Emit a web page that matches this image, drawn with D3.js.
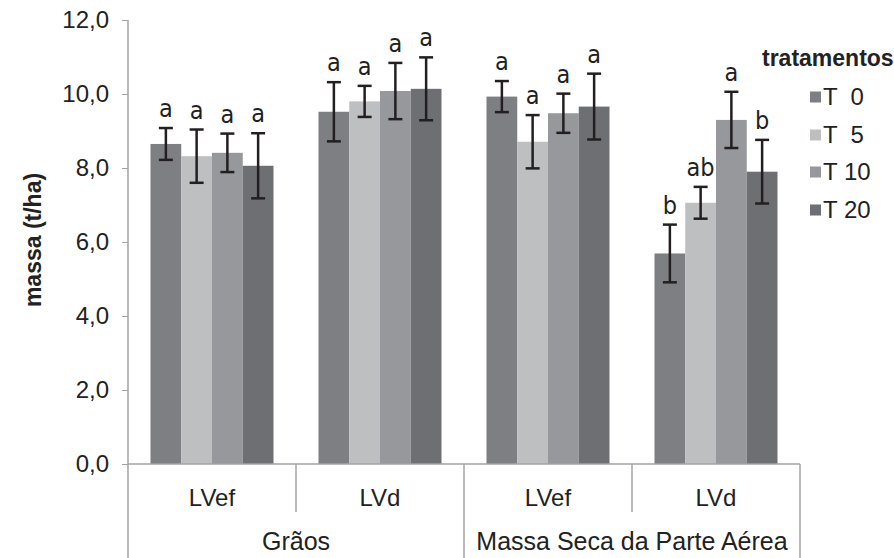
<!DOCTYPE html>
<html><head><meta charset="utf-8">
<script src="https://cdn.jsdelivr.net/npm/d3@7"></script>
<style>body{margin:0;background:#fff}svg{display:block}</style>
</head><body>
<svg id="c" width="894" height="558"></svg>
<script>
const groups = ["Grãos", "Massa Seca da Parte Aérea"];
const soils = ["LVef", "LVd"];
const clusters = ["Grãos|LVef", "Grãos|LVd", "MSPA|LVef", "MSPA|LVd"];
const clusterSoil = ["LVef", "LVd", "LVef", "LVd"];
const series = ["T  0", "T  5", "T 10", "T 20"];
const colors = ["#7e7f83", "#bebfc1", "#97989b", "#6e6f73"];
// values per series across clusters
const T0 = [8.65, 9.52, 9.93, 5.69];
const T5 = [8.32, 9.80, 8.71, 7.06];
const T10 = [8.41, 10.08, 9.48, 9.30];
const T20 = [8.06, 10.14, 9.66, 7.90];
const errT0 = [0.43, 0.80, 0.42, 0.78];
const errT5 = [0.72, 0.42, 0.72, 0.43];
const errT10 = [0.52, 0.76, 0.53, 0.76];
const errT20 = [0.88, 0.85, 0.89, 0.86];
const letT0 = ["a", "a", "a", "b"];
const letT5 = ["a", "a", "a", "ab"];
const letT10 = ["a", "a", "a", "a"];
const letT20 = ["a", "a", "a", "b"];
const yTicks = [0, 2, 4, 6, 8, 10, 12];

const vals = [T0, T5, T10, T20], errs = [errT0, errT5, errT10, errT20], lets = [letT0, letT5, letT10, letT20];
const svg = d3.select("#c");
const axisColor = "#a3a3a3";
const y = d3.scaleLinear().domain([0, 12]).range([464, 20]);
const x0 = d3.scaleBand().domain(clusters).range([128, 800]);
const x1 = d3.scaleBand().domain(series).range([22.5, x0.bandwidth() - 22.5]);
const fmt = d => d.toFixed(1).replace(".", ",");
const tf = "'Liberation Sans', Arial, sans-serif";

// y axis
const yAx = svg.append("g").attr("transform", "translate(128,0)")
  .call(d3.axisLeft(y).tickValues(yTicks).tickFormat(fmt).tickSize(6).tickPadding(13));
yAx.select(".domain").remove();
yAx.selectAll(".tick line").attr("stroke", axisColor);
yAx.selectAll(".tick text").attr("font-family", tf).attr("font-size", 24).attr("fill", "#222");
svg.append("line").attr("x1", 128).attr("x2", 128).attr("y1", y(12)).attr("y2", 558).attr("stroke", axisColor).attr("stroke-width", 1.5);

// bars
series.forEach((s, si) => {
  const g = svg.append("g");
  clusters.forEach((c, ci) => {
    const v = vals[si][ci], e = errs[si][ci];
    const bx = x0(c) + x1(s);
    g.append("rect").attr("x", bx).attr("y", y(v)).attr("width", x1.bandwidth()).attr("height", y(0) - y(v)).attr("fill", colors[si]);
    const cx = bx + x1.bandwidth() / 2;
    g.append("line").attr("x1", cx).attr("x2", cx).attr("y1", y(v + e)).attr("y2", y(v - e)).attr("stroke", "#231f20").attr("stroke-width", 2.5);
    [v + e, v - e].forEach(t => g.append("line").attr("x1", cx - 7).attr("x2", cx + 7).attr("y1", y(t)).attr("y2", y(t)).attr("stroke", "#231f20").attr("stroke-width", 2.5));
    g.append("text").attr("x", cx).attr("y", y(v + e) - 11).attr("text-anchor", "middle")
      .attr("font-family", "'Liberation Sans Narrow', 'DejaVu Sans Condensed', sans-serif").attr("font-size", 25).attr("fill", "#231f20").text(lets[si][ci]);
  });
});

// x axis
svg.append("line").attr("x1", 128).attr("x2", 800).attr("y1", 464).attr("y2", 464).attr("stroke", axisColor).attr("stroke-width", 1.5);
clusters.forEach((c, ci) => {
  svg.append("text").attr("x", x0(c) + x0.bandwidth() / 2).attr("y", 506).attr("text-anchor", "middle")
    .attr("font-family", tf).attr("font-size", 24).attr("fill", "#222").text(clusterSoil[ci]);
});
[x0(clusters[1]), x0(clusters[3])].forEach(px => svg.append("line").attr("x1", px).attr("x2", px).attr("y1", 464).attr("y2", 512).attr("stroke", axisColor).attr("stroke-width", 1.5));
[x0(clusters[2]), 800].forEach(px => svg.append("line").attr("x1", px).attr("x2", px).attr("y1", 464).attr("y2", 558).attr("stroke", axisColor).attr("stroke-width", 1.5));
groups.forEach((gname, gi) => {
  const cx = (x0(clusters[gi * 2]) + x0(clusters[gi * 2 + 1]) + x0.bandwidth()) / 2;
  svg.append("text").attr("x", cx).attr("y", 550).attr("text-anchor", "middle")
    .attr("font-family", tf).attr("font-size", 25).attr("fill", "#222").text(gname);
});

// y label
svg.append("text").attr("transform", "translate(41,240) rotate(-90)").attr("text-anchor", "middle")
  .attr("font-family", tf).attr("font-weight", "bold").attr("font-size", 23).attr("fill", "#222").text("massa (t/ha)");

// legend
svg.append("text").attr("x", 762).attr("y", 66).attr("font-family", tf).attr("font-weight", "bold").attr("font-size", 23).attr("fill", "#222").text("tratamentos");
const ly = [97, 135, 172, 210];
series.forEach((s, si) => {
  svg.append("rect").attr("x", 810).attr("y", ly[si] - 5.5).attr("width", 11).attr("height", 11).attr("fill", colors[si]);
  svg.append("text").attr("x", 823).attr("y", ly[si] + 8).attr("font-family", tf).attr("font-size", 24).attr("fill", "#222")
    .attr("xml:space", "preserve").style("white-space", "pre").text(s);
});
</script>
</body></html>
